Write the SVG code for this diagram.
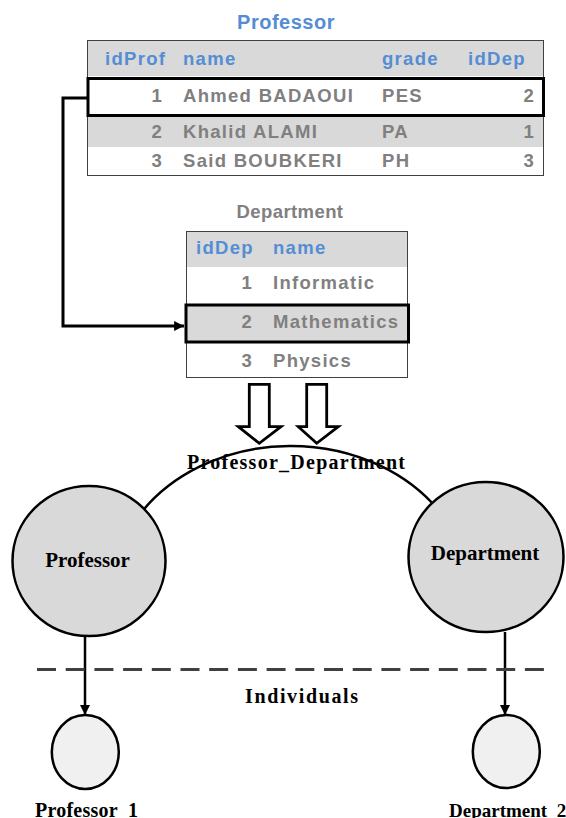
<svg xmlns="http://www.w3.org/2000/svg" width="566" height="818" viewBox="0 0 566 818">
<defs>
<style>
.tbl{font-family:"Liberation Sans",Arial,sans-serif;font-weight:bold;font-size:18.5px;letter-spacing:1.3px}
.hd{fill:#548DD4}
.dt{fill:#808080}
.ttl{font-family:"Liberation Sans",Arial,sans-serif;font-weight:bold}
.num{text-anchor:end}
.ser{font-family:"Liberation Serif","Times New Roman",serif;font-weight:bold;fill:#000}
.box{fill:#fff;stroke:#404040;stroke-width:1}
.band{fill:#d9d9d9}
.hl{fill:none;stroke:#000;stroke-width:3}
.cls{fill:#d9d9d9;stroke:#000;stroke-width:2.5}
.ind{fill:#f0f0f0;stroke:#000;stroke-width:2.5}
.hollow{fill:#fff;stroke:#000;stroke-width:2.8;stroke-linejoin:miter}
</style>
<marker id="ah" viewBox="0 0 10 10" refX="10" refY="5" markerWidth="10" markerHeight="10" markerUnits="userSpaceOnUse" orient="auto">
<path d="M0,0 L10,5 L0,10 Z" fill="#000"/>
</marker>
<marker id="ah2" viewBox="0 0 10 10" refX="10" refY="5" markerWidth="3.3" markerHeight="3.3" orient="auto">
<path d="M0,0 L10,5 L0,10 Z" fill="#000"/>
</marker>
</defs>
<rect width="566" height="818" fill="#fff"/>

<g id="professor-table">
<text class="ttl hd" x="286" y="29" font-size="20" letter-spacing="0.5" text-anchor="middle">Professor</text>
<rect class="box" x="87.5" y="40.5" width="456" height="135"/>
<rect class="band" x="88" y="41" width="455" height="35"/>
<rect class="band" x="88" y="116" width="455" height="31"/>
<g class="tbl">
<text class="hd" x="105" y="65">idProf</text>
<text class="hd" x="183" y="65">name</text>
<text class="hd" x="382" y="65">grade</text>
<text class="hd" x="468" y="65">idDep</text>
<text class="dt num" x="163" y="102">1</text>
<text class="dt" x="183" y="102">Ahmed BADAOUI</text>
<text class="dt" x="382" y="102">PES</text>
<text class="dt num" x="535" y="102">2</text>
<text class="dt num" x="163" y="138">2</text>
<text class="dt" x="183" y="138">Khalid ALAMI</text>
<text class="dt" x="382" y="138">PA</text>
<text class="dt num" x="535" y="138">1</text>
<text class="dt num" x="163" y="167">3</text>
<text class="dt" x="183" y="167">Said BOUBKERI</text>
<text class="dt" x="382" y="167">PH</text>
<text class="dt num" x="535" y="167">3</text>
</g>
<rect class="hl" x="88" y="78.5" width="455.5" height="37"/>
</g>

<g id="department-table">
<text class="ttl dt" x="290" y="218" font-size="18.5" letter-spacing="0.4" text-anchor="middle">Department</text>
<rect class="box" x="186.5" y="231.5" width="221" height="146"/>
<rect class="band" x="187" y="232" width="220" height="35"/>
<rect class="band" x="187" y="305" width="220" height="37"/>
<g class="tbl">
<text class="hd" x="196" y="254">idDep</text>
<text class="hd" x="273" y="254">name</text>
<text class="dt num" x="253" y="289">1</text>
<text class="dt" x="273" y="289">Informatic</text>
<text class="dt num" x="253" y="328">2</text>
<text class="dt" x="273" y="328">Mathematics</text>
<text class="dt num" x="253" y="367">3</text>
<text class="dt" x="273" y="367">Physics</text>
</g>
<rect class="hl" x="186" y="305" width="222.5" height="37"/>
</g>

<g id="transform-arrows">
<path class="hollow" d="M249.3,384.3 H269.3 V426.7 H281 L259.3,443.3 L238.3,426.7 H249.3 Z"/>
<path class="hollow" d="M306.7,384.3 H326.7 V426.7 H338.3 L316.7,443.3 L298.3,426.7 H306.7 Z"/>
</g>

<g id="connectors">
<path d="M88,98 H63 V326 H184" fill="none" stroke="#000" stroke-width="3" marker-end="url(#ah2)"/>
<path id="relation-arc" d="M140,514 A180,150 0 0 1 440,512" fill="none" stroke="#000" stroke-width="2.5"/>
<line x1="85" y1="636" x2="85" y2="715" stroke="#000" stroke-width="2.5" marker-end="url(#ah)"/>
<line x1="505" y1="632" x2="505" y2="715" stroke="#000" stroke-width="2.5" marker-end="url(#ah)"/>
<line x1="37" y1="669.5" x2="549" y2="669.5" stroke="#404040" stroke-width="3" stroke-dasharray="19 9.7"/>
</g>

<g id="relation-label">
<text class="ser" x="187" y="469" font-size="20" textLength="218" lengthAdjust="spacing">Professor_Department</text>
</g>

<g id="node-professor">
<ellipse class="cls" cx="89" cy="561" rx="76.5" ry="75"/>
<text class="ser" x="87.5" y="567" font-size="21" text-anchor="middle">Professor</text>
</g>

<g id="node-department">
<ellipse class="cls" cx="486" cy="557" rx="77.5" ry="75"/>
<text class="ser" x="485" y="560" font-size="21" text-anchor="middle">Department</text>
</g>

<g id="individuals-label">
<text class="ser" x="245" y="703" font-size="20" textLength="113" lengthAdjust="spacing">Individuals</text>
</g>

<g id="node-professor-1">
<ellipse class="ind" cx="85.3" cy="752" rx="33.5" ry="37"/>
<text class="ser" x="35" y="817" font-size="20" textLength="103" lengthAdjust="spacing">Professor_1</text>
</g>

<g id="node-department-2">
<ellipse class="ind" cx="506.3" cy="751.5" rx="33.5" ry="36.5"/>
<text class="ser" x="449" y="817" font-size="19">Department_2</text>
</g>
</svg>
